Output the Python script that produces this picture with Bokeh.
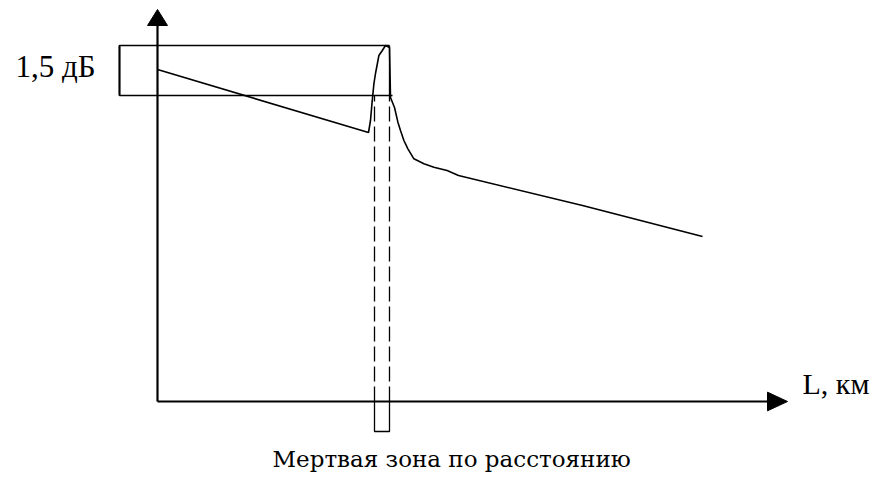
from bokeh.plotting import figure
from bokeh.models import Range1d, Label
from bokeh.embed import file_html
from bokeh.resources import INLINE

# --- data (distance in km, level in dB) ---
trace_km = [0.0, 10.55, 10.65, 10.73, 10.82, 10.9, 11.07, 11.24, 11.4, 11.6,
            11.65, 11.85, 12.02, 12.15, 12.32, 12.52, 12.82, 13.32, 13.82,
            14.48, 15.05, 21.25, 27.25]
trace_db = [9.96, 8.07, 8.43, 8.98, 9.53, 9.84, 10.38, 10.53, 10.68, 10.62,
            9.12, 8.82, 8.38, 8.13, 7.83, 7.58, 7.28, 7.13, 7.03,
            6.93, 6.78, 5.88, 4.95]

box_left_km = -1.9
box_right_km = 11.6
box_bottom_db = 9.18
box_top_db = 10.68
bottom_line_end_km = 11.75

dead_zone_km = [10.85, 11.6]
dead_zone_low_db = -0.9

x_axis_end_km = 30.5
x_arrow_tip_km = 31.5
y_axis_end_db = 11.28
y_arrow_tip_db = 11.76

label_db = "1,5 дБ"
label_x = "L, км"
caption = "Мертвая зона по расстоянию"

p = figure(width=880, height=481, output_backend="svg", toolbar_location=None,
           x_range=Range1d(-7.85, 36.15), y_range=Range1d(-2.4, 12.03),
           min_border=0, outline_line_color=None)
p.axis.visible = False
p.grid.visible = False

# axes
p.line([0, 0], [0, y_axis_end_db], line_color="black", line_width=2.2)
p.line([0, x_axis_end_km], [0, 0], line_color="black", line_width=2)
p.patch([-0.5, 0, 0.5], [y_axis_end_db, y_arrow_tip_db, y_axis_end_db], color="black")
p.patch([x_axis_end_km, x_arrow_tip_km, x_axis_end_km], [-0.28, 0, 0.28], color="black")

# 1.5 dB box
p.line([box_right_km, box_left_km, box_left_km, bottom_line_end_km],
       [box_top_db, box_top_db, box_bottom_db, box_bottom_db],
       line_color="black", line_width=1.3)
p.line([box_left_km, box_left_km], [box_bottom_db, box_top_db], line_color="black", line_width=2)
p.line([box_right_km, box_right_km], [box_bottom_db, box_top_db], line_color="black", line_width=1.3)

# dead zone dashed lines
for xk in dead_zone_km:
    p.line([xk, xk], [0, box_bottom_db], line_color="black", line_width=1.3, line_dash="15 5")
p.line([dead_zone_km[0], dead_zone_km[0], dead_zone_km[1], dead_zone_km[1]],
       [0, dead_zone_low_db, dead_zone_low_db, 0], line_color="black", line_width=1.3)

# trace
p.line(trace_km, trace_db, line_color="black", line_width=1.6)

p.add_layout(Label(x=-7.1, y=10.05, text=label_db, text_font="Liberation Serif",
                   text_font_size="31px", text_baseline="middle", text_color="black"))
p.add_layout(Label(x=32.25, y=0.54, text=label_x, text_font="Liberation Serif",
                   text_font_size="30px", text_baseline="middle", text_color="black"))
p.add_layout(Label(x=5.75, y=-1.71, text=caption, text_font="DejaVu Serif",
                   text_font_size="23px", text_baseline="middle", text_color="black"))

open("out.html", "w").write(file_html(p, INLINE))
